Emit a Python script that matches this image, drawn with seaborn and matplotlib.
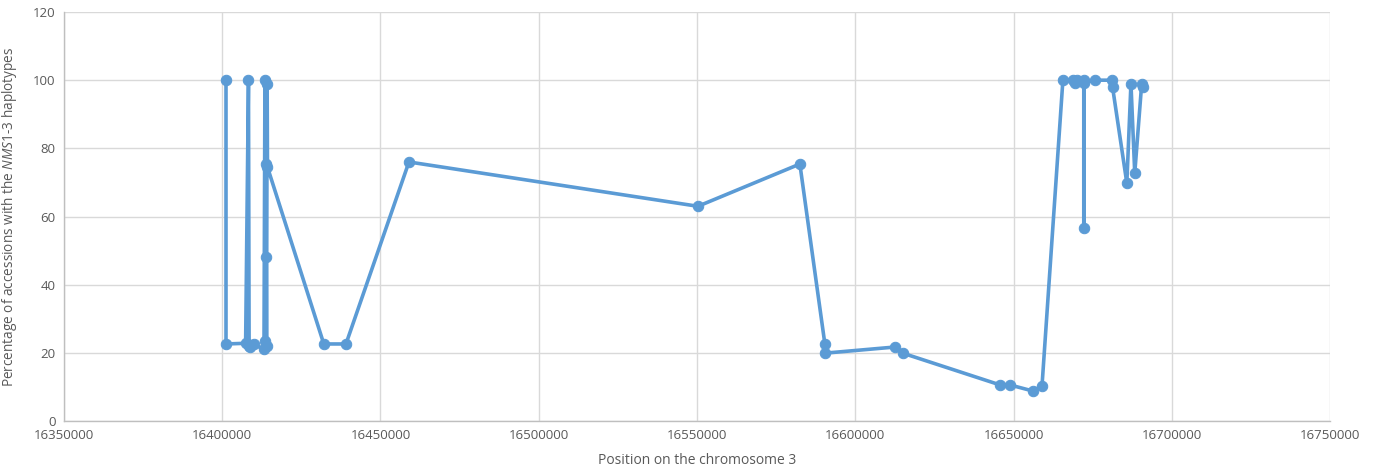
import matplotlib
matplotlib.use("Agg")
import matplotlib.pyplot as plt
import seaborn as sns
import pandas as pd

position = [16401200, 16401200, 16407400, 16408300, 16408500, 16408700, 16409000, 16410000,
            16413200, 16413500, 16413600, 16413800, 16413900, 16414000, 16414200, 16414300,
            16432100, 16439100, 16459000, 16550300, 16582500, 16590400, 16590400, 16612500,
            16615000, 16645700, 16648800, 16656100, 16659000, 16665600, 16668700, 16669300,
            16669900, 16672200, 16672200, 16672200, 16675700, 16681100, 16681300, 16685800,
            16687100, 16688300, 16690500, 16690800]
percentage = [100, 22.6, 22.8, 100, 22.0, 21.8, 22.4, 22.6,
              21.0, 100, 23.5, 75.5, 48.0, 22.0, 99.0, 74.5,
              22.6, 22.6, 76.0, 63.0, 75.4, 22.6, 19.9, 21.7,
              19.9, 10.6, 10.6, 8.8, 10.3, 100, 100, 99.2,
              100, 100, 56.6, 99.2, 100, 100, 97.9, 69.8,
              99.0, 72.7, 99.0, 98.0]

df = pd.DataFrame({"pos": position, "pct": percentage})

sns.set_theme(style="whitegrid")
plt.rcParams['font.family'] = ['Open Sans', 'DejaVu Sans']
plt.rcParams['mathtext.fontset'] = 'custom'
plt.rcParams['mathtext.it'] = 'Open Sans:italic'
plt.rcParams['mathtext.rm'] = 'Open Sans'

fig = plt.figure(figsize=(13.78, 4.75), dpi=100)
ax = fig.add_axes([0.0464, 0.1137, 0.9188, 0.861])

blue = "#5B9BD5"
sns.lineplot(data=df, x="pos", y="pct", sort=False, estimator=None, ax=ax,
             color=blue, linewidth=2.6, marker="o", markersize=7.5,
             markeredgecolor=blue, markerfacecolor=blue)

ax.set_xlim(16350000, 16750000)
ax.set_ylim(0, 120)
ax.set_xticks(range(16350000, 16750001, 50000))
ax.set_xticklabels([str(v) for v in range(16350000, 16750001, 50000)])
ax.set_yticks(range(0, 121, 20))

ax.grid(True, color="#D9D9D9", linewidth=1.0)
for s in ["top", "right"]:
    ax.spines[s].set_visible(False)
for s in ["left", "bottom"]:
    ax.spines[s].set_color("#BFBFBF")
    ax.spines[s].set_linewidth(1.0)
ax.tick_params(axis="both", colors="#595959", labelsize=9.5, length=0, pad=6)

ax.set_xlabel("Position on the chromosome 3", color="#595959", fontsize=10, labelpad=8)
ax.set_ylabel(r"Percentage of accessions with the $\mathit{NMS1}$-$\mathit{3}$ haplotypes",
              color="#595959", fontsize=9.8, labelpad=10)

fig.savefig("out.png", dpi=100)
